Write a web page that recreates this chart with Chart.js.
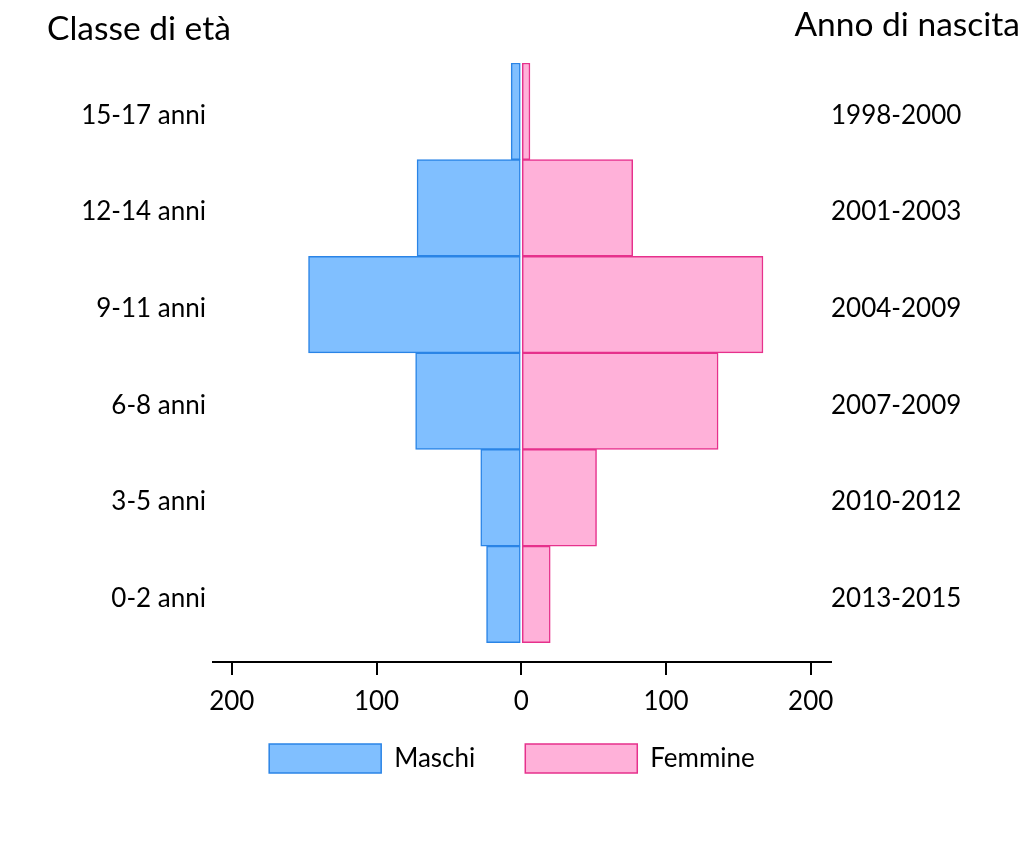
<!DOCTYPE html>
<html>
<head>
<meta charset="utf-8">
<script src="https://cdn.jsdelivr.net/npm/chart.js@4.4.1/dist/chart.umd.min.js"></script>
<style>
body { margin: 0; background: #fff; }
#wrap { position: relative; width: 1024px; height: 842px; }
.titolo { position: absolute; font-family: Lato; font-size: 33.5px; line-height: 34px; color: #000; white-space: nowrap; }
</style>
</head>
<body>
<div id="wrap">
    <canvas id="grafico" width="1024" height="842"></canvas>
    <div class="titolo" style="left:47px;top:10px">Classe di età</div>
    <div class="titolo" style="right:4px;top:6px">Anno di nascita</div>
</div>
<script>
const classi = ['15-17 anni', '12-14 anni', '9-11 anni', '6-8 anni', '3-5 anni', '0-2 anni'];
const anni = ['1998-2000', '2001-2003', '2004-2009', '2007-2009', '2010-2012', '2013-2015'];
const maschi = [7, 72, 147, 73, 28, 24];
const femmine = [6, 77, 167, 136, 52, 20];
const tickX = [-200, -100, 0, 100, 200];

Chart.defaults.font.family = 'Lato';
Chart.defaults.color = '#000';

// righe come indici 0..5 su asse lineare, per lasciare lo spazio sopra l'asse x
const righe = classi.map((c, i) => ({ value: i }));

const ctx = document.getElementById('grafico').getContext('2d');
new Chart(ctx, {
    type: 'bar',
    data: {
        datasets: [{
            label: 'Maschi',
            data: maschi.map((v, i) => ({ x: -v, y: i })),
            backgroundColor: '#80bfff',
            borderColor: '#2a84e6',
            borderWidth: 1.5,
            borderSkipped: false,
            grouped: false,
            barPercentage: 1,
            categoryPercentage: 1
        }, {
            label: 'Femmine',
            data: femmine.map((v, i) => ({ x: v, y: i })),
            backgroundColor: '#ffb1d9',
            borderColor: '#e6318c',
            borderWidth: 1.5,
            borderSkipped: false,
            grouped: false,
            barPercentage: 1,
            categoryPercentage: 1
        }]
    },
    options: {
        indexAxis: 'y',
        responsive: false,
        animation: false,
        layout: { padding: { top: 63, left: 0, right: 0, bottom: 59 } },
        scales: {
            x: {
                type: 'linear',
                min: -213,
                max: 214,
                afterBuildTicks: s => { s.ticks = tickX.map(v => ({ value: v })); },
                afterFit: s => { s.height = 54; },
                ticks: { callback: v => Math.abs(v), font: { size: 26 }, padding: 11, maxRotation: 0, autoSkip: false },
                grid: { drawOnChartArea: false, drawTicks: true, tickLength: 13, color: '#000', lineWidth: 2 },
                border: { display: true, color: '#000', width: 2 }
            },
            y: {
                type: 'linear',
                reverse: true,
                offset: false,
                min: -0.5,
                max: 5.7,
                afterBuildTicks: s => { s.ticks = righe.map(t => ({ value: t.value })); },
                afterFit: s => { s.width = 213; },
                ticks: { callback: v => classi[v], font: { size: 26 }, padding: 7, labelOffset: 4, autoSkip: false },
                grid: { display: false, drawTicks: false },
                border: { display: false }
            },
            y2: {
                type: 'linear',
                position: 'right',
                reverse: true,
                offset: false,
                min: -0.5,
                max: 5.7,
                afterBuildTicks: s => { s.ticks = righe.map(t => ({ value: t.value })); },
                afterFit: s => { s.width = 193; },
                ticks: { callback: v => anni[v], font: { size: 26 }, padding: 0, labelOffset: 4, autoSkip: false },
                grid: { display: false, drawTicks: false },
                border: { display: false }
            }
        },
        plugins: {
            legend: {
                position: 'bottom',
                // titolo vuoto con padding negativo: avvicina la legenda all'asse
                title: { display: true, text: '', font: { size: 0, lineHeight: 0 }, padding: { top: -22, bottom: 0 } },
                labels: { boxWidth: 112, boxHeight: 29, font: { size: 26 }, padding: 50 }
            },
            tooltip: {
                callbacks: { label: c => c.dataset.label + ': ' + Math.abs(c.parsed.x) }
            }
        }
    }
});
</script>
</body>
</html>
